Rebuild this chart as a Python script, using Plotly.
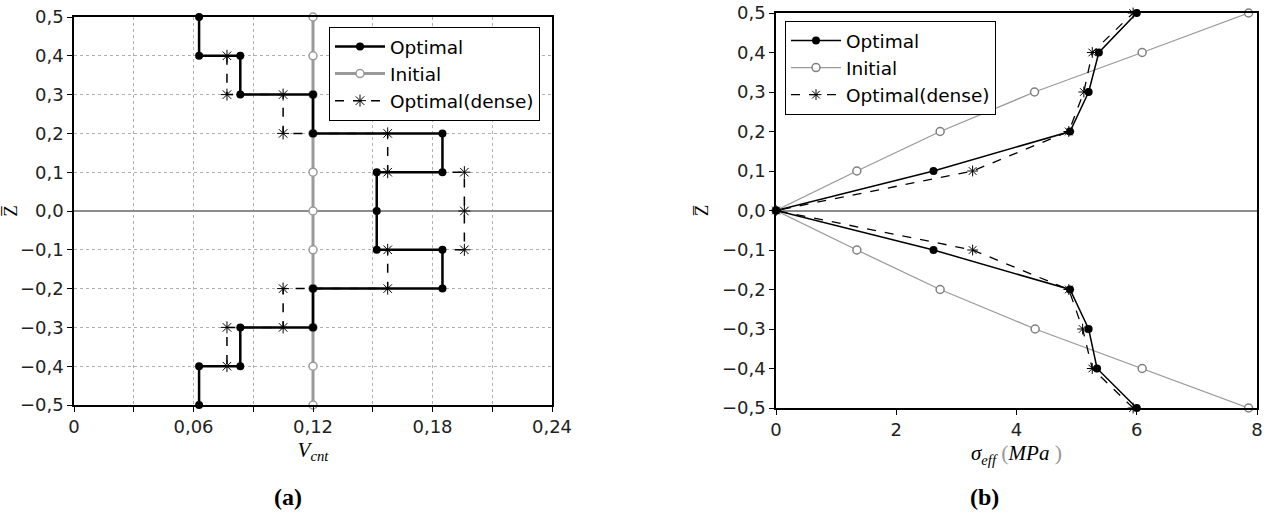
import plotly.graph_objects as go

# ---------------- data ----------------
# (a) V_cnt vs Z
opt_v = [0.0628, 0.0628, 0.0835, 0.0835, 0.12, 0.12, 0.185, 0.185, 0.152, 0.152, 0.152,
         0.185, 0.185, 0.12, 0.12, 0.0835, 0.0835, 0.0628, 0.0628]
opt_z = [0.5, 0.4, 0.4, 0.3, 0.3, 0.2, 0.2, 0.1, 0.1, 0.0, -0.1,
         -0.1, -0.2, -0.2, -0.3, -0.3, -0.4, -0.4, -0.5]
init_v = [0.12] * 11
init_z = [0.5, 0.4, 0.3, 0.2, 0.1, 0.0, -0.1, -0.2, -0.3, -0.4, -0.5]
dense_v = [0.0768, 0.0768, 0.105, 0.105, 0.1575, 0.1575, 0.196, 0.196, 0.196,
           0.1575, 0.1575, 0.105, 0.105, 0.0768, 0.0768]
dense_z = [0.4, 0.3, 0.3, 0.2, 0.2, 0.1, 0.1, 0.0, -0.1,
           -0.1, -0.2, -0.2, -0.3, -0.3, -0.4]

# (b) sigma_eff vs Z
z_b = [-0.5, -0.4, -0.3, -0.2, -0.1, 0.0, 0.1, 0.2, 0.3, 0.4, 0.5]
init_s = [7.86, 6.09, 4.31, 2.73, 1.345, 0.0, 1.345, 2.73, 4.3, 6.09, 7.86]
opt_s = [6.0, 5.34, 5.2, 4.89, 2.62, 0.0, 2.62, 4.89, 5.2, 5.37, 6.0]
dense_s = [5.94, 5.26, 5.1, 4.87, 3.27, 0.0, 3.27, 4.87, 5.12, 5.26, 5.94]

# tick labels
z_ticks = [0.5, 0.4, 0.3, 0.2, 0.1, 0.0, -0.1, -0.2, -0.3, -0.4, -0.5]
z_text = ["0,5", "0,4", "0,3", "0,2", "0,1", "0,0", "−0,1", "−0,2", "−0,3", "−0,4", "−0,5"]
v_ticks = [0, 0.06, 0.12, 0.18, 0.24]
v_text = ["0", "0,06", "0,12", "0,18", "0,24"]
s_ticks = [0, 2, 4, 6, 8]
s_text = ["0", "2", "4", "6", "8"]

GRAY = "#9a9a9a"
SANS = "DejaVu Sans"
SERIF = "Liberation Serif"

fig = go.Figure()

# ----- (a) -----
fig.add_trace(go.Scatter(x=init_v, y=init_z, name="Initial", mode="lines+markers",
                         line=dict(color=GRAY, width=3),
                         marker=dict(symbol="circle", size=8, color="white",
                                     line=dict(color=GRAY, width=1.5)),
                         xaxis="x", yaxis="y", legend="legend", legendrank=2, cliponaxis=False))
fig.add_trace(go.Scatter(x=opt_v, y=opt_z, name="Optimal", mode="lines+markers",
                         line=dict(color="black", width=2.5),
                         marker=dict(symbol="circle", size=8, color="black"),
                         xaxis="x", yaxis="y", legend="legend", legendrank=1, cliponaxis=False))
fig.add_trace(go.Scatter(x=dense_v, y=dense_z, name="Optimal(dense)", mode="lines+markers",
                         line=dict(color="black", width=1.5, dash="dash"),
                         marker=dict(symbol="asterisk-open", size=10, color="black",
                                     line=dict(color="black", width=1)),
                         xaxis="x", yaxis="y", legend="legend", legendrank=3, cliponaxis=False))

# ----- (b) -----
fig.add_trace(go.Scatter(x=init_s, y=z_b, name="Initial", mode="lines+markers",
                         line=dict(color=GRAY, width=1.3),
                         marker=dict(symbol="circle", size=8, color="white",
                                     line=dict(color="#808080", width=1.5)),
                         xaxis="x2", yaxis="y2", legend="legend2", legendrank=2, cliponaxis=False))
fig.add_trace(go.Scatter(x=opt_s, y=z_b, name="Optimal", mode="lines+markers",
                         line=dict(color="black", width=1.5),
                         marker=dict(symbol="circle", size=8, color="black"),
                         xaxis="x2", yaxis="y2", legend="legend2", legendrank=1, cliponaxis=False))
fig.add_trace(go.Scatter(x=dense_s, y=z_b, name="Optimal(dense)", mode="lines+markers",
                         line=dict(color="black", width=1.3, dash="dash"),
                         marker=dict(symbol="asterisk-open", size=9, color="black",
                                     line=dict(color="black", width=1)),
                         xaxis="x2", yaxis="y2", legend="legend2", legendrank=3, cliponaxis=False))

axis_common = dict(showline=True, linecolor="black", linewidth=1.5, mirror=True,
                   ticks="outside", ticklen=5, tickcolor="black", automargin=False,
                   tickfont=dict(family=SANS, size=18, color="#222"))

v_title = "<i>V</i><sub><i>cnt</i></sub>"
s_title = ("<i>σ</i><sub><i>eff</i></sub> <span style='color:#999;font-size:22px'>(</span>"
           "<i>MPa</i> <span style='color:#999;font-size:22px'>)</span>")
z_title = "Z\u0305"

fig.update_layout(
    width=1266, height=517,
    margin=dict(l=0, r=0, t=0, b=0, pad=0),
    paper_bgcolor="white", plot_bgcolor="white",
    xaxis=dict(domain=[74 / 1266, 552 / 1266], range=[0, 0.24], anchor="y",
               tickmode="array", tickvals=v_ticks, ticktext=v_text,
               showgrid=True, gridcolor="#b0b0b0", griddash="dot", gridwidth=1,
               minor=dict(dtick=0.03, tick0=0, ticks="outside", ticklen=5, tickcolor="black",
                          showgrid=True, gridcolor="#b0b0b0", griddash="dot", gridwidth=1),
               zeroline=False,
               title=dict(text=v_title, standoff=6, font=dict(family=SERIF, size=21, color="black")),
               **axis_common),
    yaxis=dict(domain=[(517 - 405) / 517, (517 - 17) / 517], range=[-0.5, 0.5], anchor="x",
               tickmode="array", tickvals=z_ticks, ticktext=z_text,
               showgrid=True, gridcolor="#b0b0b0", griddash="dot", gridwidth=1,
               zeroline=True, zerolinecolor="#8c8c8c", zerolinewidth=1.5,
               title=dict(text=z_title, standoff=5, font=dict(family=SERIF, size=19, color="black")),
               **axis_common),
    xaxis2=dict(domain=[776 / 1266, 1257 / 1266], range=[0, 8], anchor="y2",
                tickmode="array", tickvals=s_ticks, ticktext=s_text,
                showgrid=False, zeroline=False,
                title=dict(text=s_title, standoff=6, font=dict(family=SERIF, size=21, color="black")),
                **axis_common),
    yaxis2=dict(domain=[(517 - 408) / 517, (517 - 13) / 517], range=[-0.5, 0.5], anchor="x2",
                tickmode="array", tickvals=z_ticks, ticktext=z_text,
                showgrid=False, zeroline=True, zerolinecolor="#8c8c8c", zerolinewidth=1.5,
                title=dict(text=z_title, standoff=8, font=dict(family=SERIF, size=19, color="black")),
                **axis_common),
    legend=dict(x=329 / 1266, y=(517 - 27) / 517, xanchor="left", yanchor="top",
                bgcolor="white", bordercolor="black", borderwidth=1, itemwidth=50,
                font=dict(family=SANS, size=18.5, color="black"), tracegroupgap=0),
    legend2=dict(x=785 / 1266, y=(517 - 21) / 517, xanchor="left", yanchor="top",
                 bgcolor="white", bordercolor="black", borderwidth=1, itemwidth=50,
                 font=dict(family=SANS, size=18.5, color="black"), tracegroupgap=0),
    showlegend=True,
)

for txt, xp in (("<b>(a)</b>", 288), ("<b>(b)</b>", 985)):
    fig.add_annotation(text=txt, x=xp / 1266, y=1 - 497 / 517,
                       xref="paper", yref="paper", showarrow=False,
                       xanchor="center", yanchor="middle",
                       font=dict(family=SERIF, size=24, color="black"))

fig.write_html("out.html")
